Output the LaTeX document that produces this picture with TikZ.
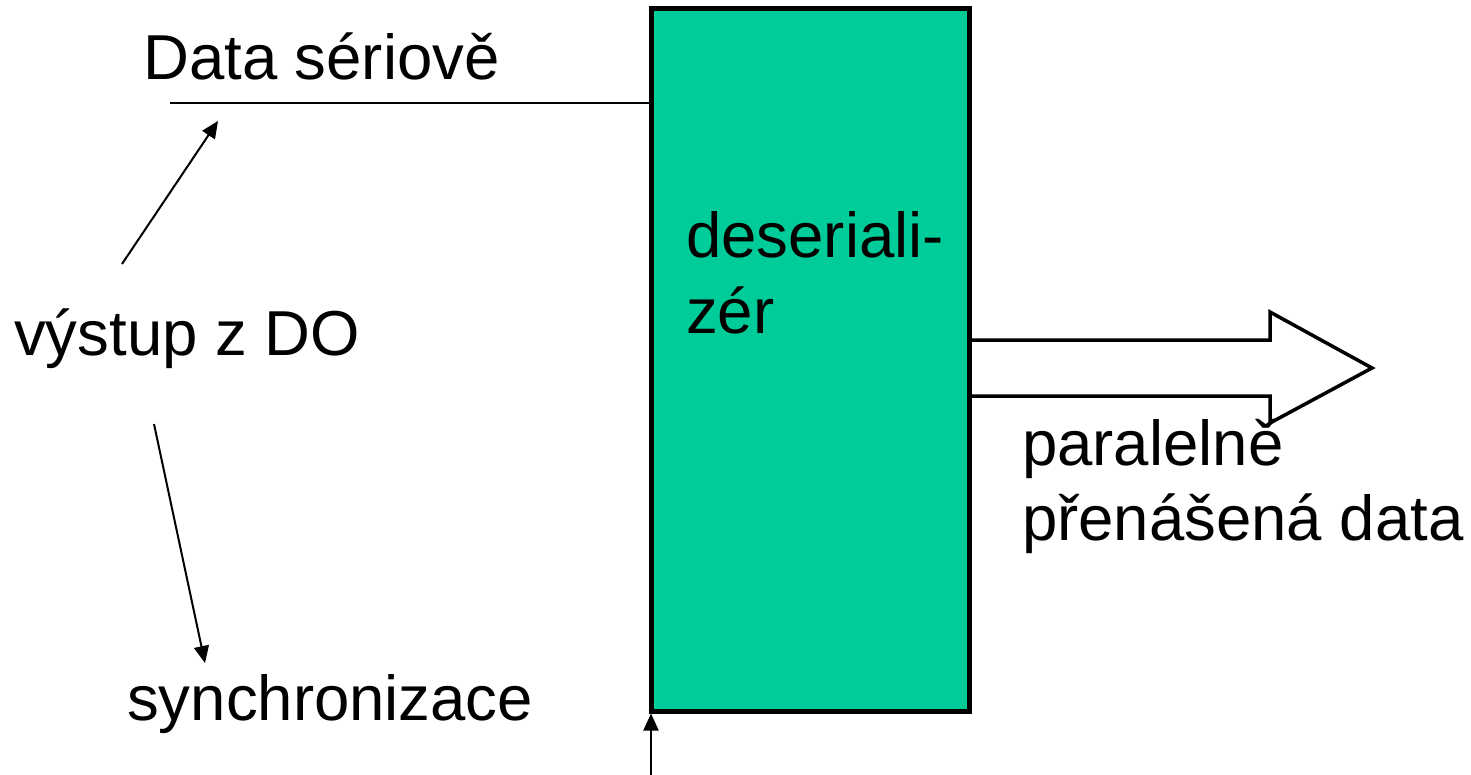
\documentclass[tikz,border=0pt]{standalone}
\usepackage{fontspec}
\setmainfont{Liberation Sans}
\usetikzlibrary{arrows.meta}
\definecolor{boxgreen}{RGB}{0,204,153}
\tikzset{
  lbl/.style={anchor=base west,inner sep=0pt,font=\fontsize{63.5}{75}\selectfont,align=left},
  ptr/.style={line width=2pt,-{Triangle[length=17pt,width=15pt]}},
  wire/.style={line width=2pt},
  fat/.style={line width=3.5pt,fill=white,line join=miter}
}
\begin{document}
\begin{tikzpicture}[x=1pt,y=-1pt]
\useasboundingbox (0,0) rectangle (1471,775);
% fat arrow
\draw[fat] (968,340) -- (1270,340) -- (1270,312) -- (1372,368) -- (1270,423) -- (1270,396) -- (968,396);
% box
\node[draw,line width=5pt,fill=boxgreen,minimum width=318pt,minimum height=702pt,inner sep=0pt,anchor=north west] (box) at (648.5,6.5) {};
% texts
\node[lbl] (ds) at (143,80) {Data sériově};
\node[lbl] (vy) at (14,355) {výstup z DO};
\node[lbl] (sy) at (127,720) {synchronizace};
\node[lbl] (de) at (686,333) {deseriali-\\zér};
\node[lbl] (pa) at (1022,540) {paralelně\\přenášená data};
% wires and pointers
\coordinate (dstart) at (170,103);
\draw[wire] (dstart) -- (box.west |- dstart);
\coordinate (a1s) at (122,264);
\coordinate (a1e) at (218,121);
\draw[ptr] (a1s) -- (a1e);
\coordinate (a2s) at (154,424);
\coordinate (a2e) at (205,663);
\draw[ptr] (a2s) -- (a2e);
\coordinate (a3s) at (651,775);
\draw[ptr] (a3s) -- (a3s |- box.south);
\end{tikzpicture}
\end{document}
